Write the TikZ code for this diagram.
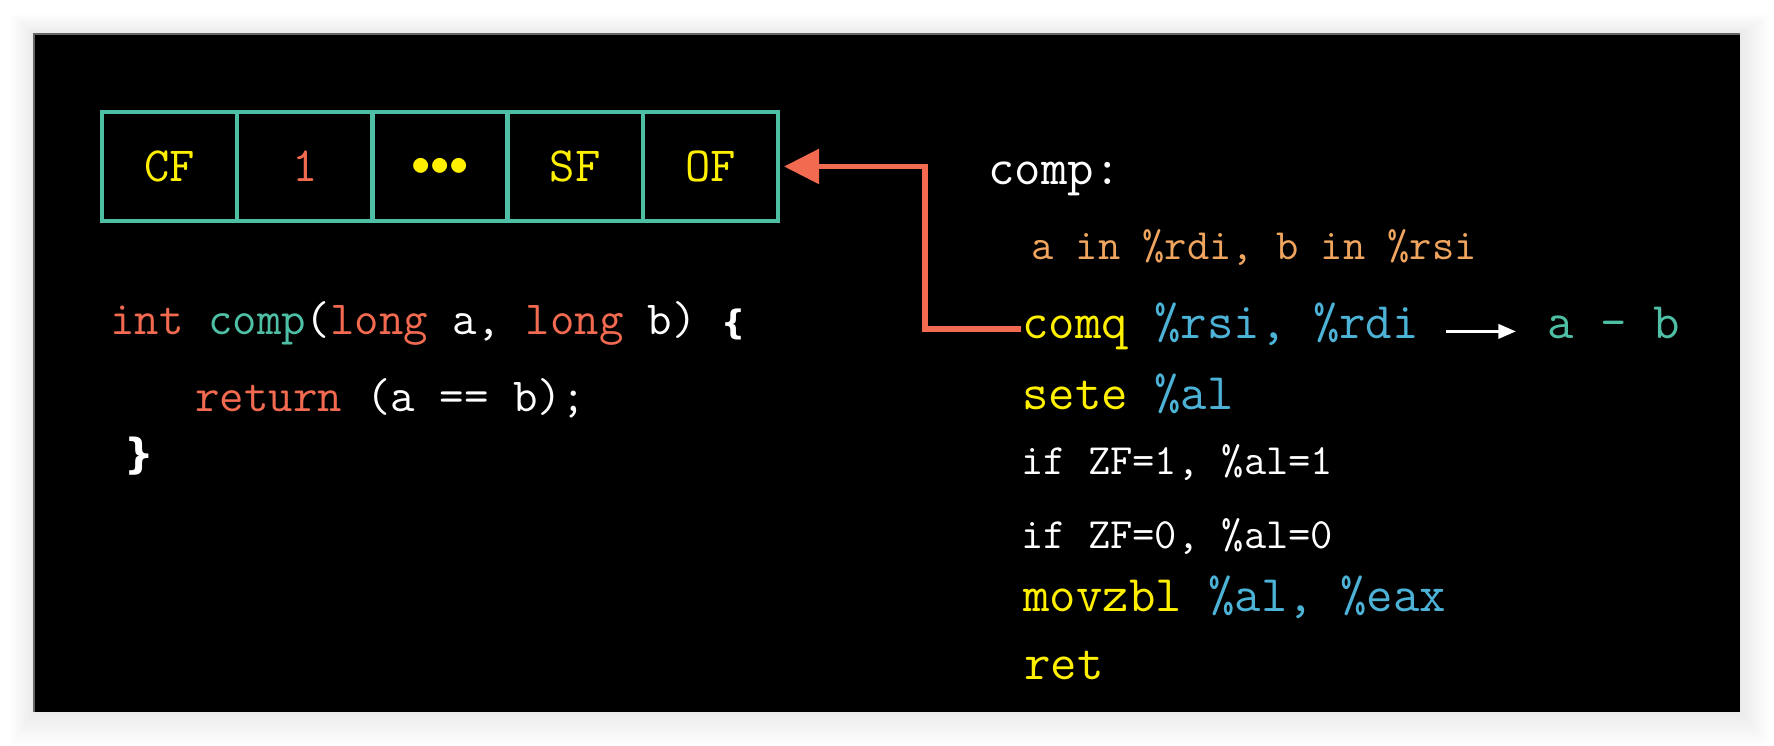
\documentclass[tikz,border=0pt]{standalone}
\usepackage{fontspec}
\newfontfamily\bracefont{DejaVu Sans}
\usetikzlibrary{arrows.meta}
\definecolor{flagteal}{RGB}{78,190,164}
\definecolor{flagyellow}{RGB}{255,240,0}
\definecolor{hotred}{RGB}{242,106,80}
\definecolor{sand}{RGB}{240,165,95}
\definecolor{regblue}{RGB}{76,178,214}
\begin{document}
\begin{tikzpicture}[thick,
	flag node/.style={draw=flagteal,line width=1.2pt,outer sep=0pt,minimum width=1.352cm,minimum height=1.09cm,font=\ttfamily\fontsize{14}{16}\selectfont},
	code node/.style={anchor=base west,inner sep=0pt,text=white,font=\ttfamily\fontsize{13.5}{16}\selectfont},
	asm node/.style={anchor=base west,inner sep=0pt,text=white,font=\ttfamily\fontsize{14.6}{17}\selectfont},
	note node/.style={asm node,font=\ttfamily\fontsize{12.3}{14}\selectfont}]
			\useasboundingbox (0, 0) rectangle (17.74, -7.46);
			\foreach \s in {1,...,20}
				\fill[black,opacity=0.005] (0.34-\s*0.012, -0.34+\s*0.01) rectangle (17.40+\s*0.015, -7.12-\s*0.017);
			\fill[black] (0.34, -0.34) rectangle (17.40, -7.12);
			\draw[black!60,line width=0.4pt] (0.34, -7.12) -- (0.34, -0.34) -- (17.40, -0.34);

			\node[flag node,text=flagyellow] at (1.696, -1.665) (cf) {CF};
			\node[flag node,text=hotred] at (3.048, -1.665) (bit) {1};
			\node[flag node,text=flagyellow] at (4.400, -1.665) (dots) {\fontsize{11}{11}\selectfont$\mathord{\bullet}\mathord{\bullet}\mathord{\bullet}$};
			\node[flag node,text=flagyellow] at (5.752, -1.665) (sf) {SF};
			\node[flag node,text=flagyellow] at (7.104, -1.665) (of) {OF};

			\node[code node] at (1.09, -3.35) (sig) {\textcolor{hotred}{int} \textcolor{flagteal}{comp}(\textcolor{hotred}{long} a, \textcolor{hotred}{long} b) {\bracefont\bfseries\fontsize{9.6}{10}\selectfont\{}};
			\node[code node] at (1.94, -4.12) (body) {\textcolor{hotred}{return} (a == b);};
			\node[code node] at (1.23, -4.69) (close) {\bracefont\bfseries\fontsize{11.8}{12}\selectfont\}};

			\node[asm node] at (9.87, -1.85) (label) {comp:};
			\node[note node,text=sand] at (10.30, -2.60) (args) {a in \%rdi, b in \%rsi};
			\node[asm node,text=flagyellow] at (10.21, -3.39) (cmp) {comq \textcolor{regblue}{\%rsi, \%rdi}};
			\node[asm node,text=flagteal] at (15.46, -3.39) (diff) {a - b};
			\node[asm node,text=flagyellow] at (10.21, -4.10) (sete) {sete \textcolor{regblue}{\%al}};
			\node[note node] at (10.20, -4.75) (zfone) {if ZF=1, \%al=1};
			\node[note node] at (10.20, -5.49) (zfzero) {if ZF=0, \%al=0};
			\node[asm node,text=flagyellow] at (10.22, -6.12) (movz) {movzbl \textcolor{regblue}{\%al, \%eax}};
			\node[asm node,text=flagyellow] at (10.23, -6.80) (ret) {ret};

			\draw[hotred,line width=1.6pt,-{Triangle[length=10pt,width=9.7pt]},shorten >=0.06cm]
				([yshift=0.10cm]cmp.base west) -- ++(-0.96, 0) |- (of.east);
			\path
				(cmp.mid east) edge[white,line width=0.9pt,-{Triangle[length=5pt,width=4pt]},shorten <=0.26cm,shorten >=0.30cm] (diff.mid west)
				;
		\end{tikzpicture}
\end{document}
